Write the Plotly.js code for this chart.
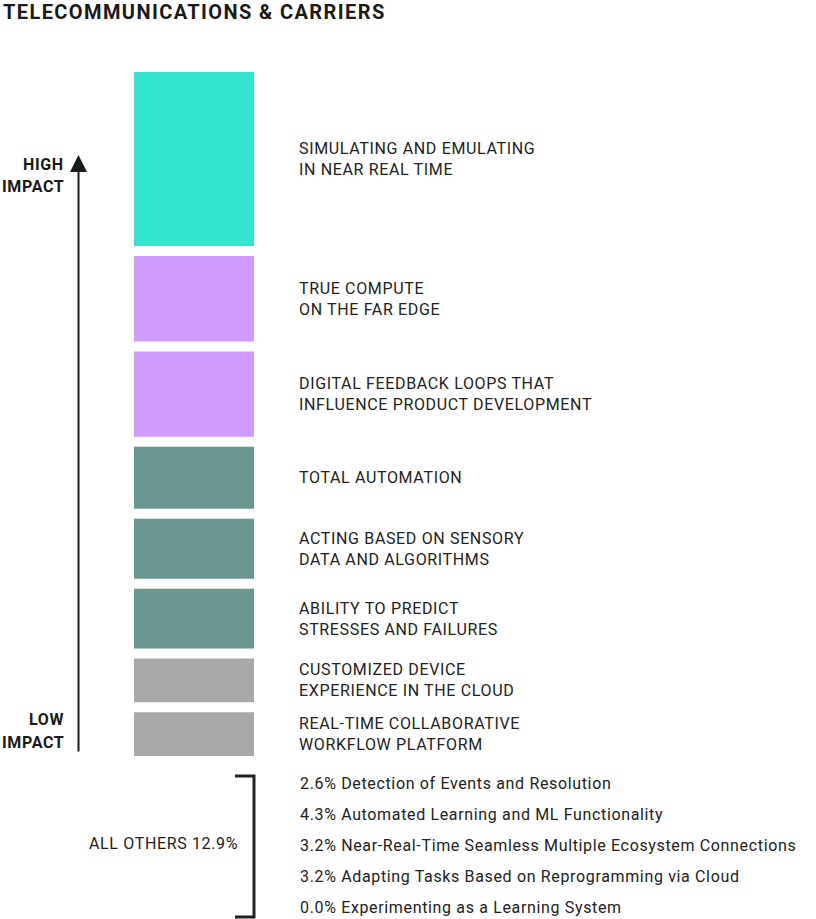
<!DOCTYPE html>
<html><head><meta charset="utf-8">
<script src="https://cdn.plot.ly/plotly-3.0.1.min.js"></script>
<style>
html,body{margin:0;padding:0;background:#fff}
#chart{width:816px;height:919px}
.annotation-text{letter-spacing:0.65px}
.gtitle{letter-spacing:1.4px}
</style></head><body><div id="chart"></div>
<script>
// ---- data (segments listed from top of the column to the bottom) ----
const impactLabels = [
  "SIMULATING AND EMULATING<br>IN NEAR REAL TIME",
  "TRUE COMPUTE<br>ON THE FAR EDGE",
  "DIGITAL FEEDBACK LOOPS THAT<br>INFLUENCE PRODUCT DEVELOPMENT",
  "TOTAL AUTOMATION",
  "ACTING BASED ON SENSORY<br>DATA AND ALGORITHMS",
  "ABILITY TO PREDICT<br>STRESSES AND FAILURES",
  "CUSTOMIZED DEVICE<br>EXPERIENCE IN THE CLOUD",
  "REAL-TIME COLLABORATIVE<br>WORKFLOW PLATFORM"
];
const impactValues = [24.7, 12.1, 12.1, 8.8, 8.5, 8.5, 6.2, 6.2];
const impactGroups = ["top", "high", "high", "mid", "mid", "mid", "low", "low"];

const otherLabels = [
  "Detection of Events and Resolution",
  "Automated Learning and ML Functionality",
  "Near-Real-Time Seamless Multiple Ecosystem Connections",
  "Adapting Tasks Based on Reprogramming via Cloud",
  "Experimenting as a Learning System"
];
const otherValues = [2.6, 4.3, 3.2, 3.2, 0.0];
const othersTotal = 12.9;

const chartTitle = "TELECOMMUNICATIONS &amp; CARRIERS";

// ---- styling ----
const groupColors = {top: "#33E4D1", high: "#CF9BFE", mid: "#6A9690", low: "#A8A8A8"};
const W = 816, H = 919;
const BAR_TOP = 72, BAR_BOTTOM = 756, GAP_PX = 10;
const BAR_CENTER = 194, BAR_WIDTH = 120;
const FONT = "Roboto, 'Noto Sans', sans-serif";
const TXT = "#222222";

// bottom-to-top ordering for stacking
const vals = impactValues.slice().reverse();
const labs = impactLabels.slice().reverse();
const cols = impactGroups.slice().reverse().map(g => groupColors[g]);
const sum = vals.reduce((a, b) => a + b, 0);
const n = vals.length;
const k = ((BAR_BOTTOM - BAR_TOP) - GAP_PX * (n - 1)) / sum; // px per unit
const gapU = GAP_PX / k;
const bases = [];
let acc = 0;
vals.forEach((v, i) => { bases.push(acc); acc += v + gapU; });
const totalU = acc - gapU;
const yRange = [-(H - BAR_BOTTOM) / k, totalU + BAR_TOP / k];

const py = p => (H - p) / H; // pixel -> paper y

const annotations = [];
labs.forEach((t, i) => {
  annotations.push({
    x: 297, xref: "x", y: bases[i] + vals[i] / 2, yref: "y",
    text: t, showarrow: false, xanchor: "left", yanchor: "middle", align: "left",
    font: {family: FONT, size: 16, color: TXT}
  });
});
const otherY = [783, 814, 845, 876, 907];
otherLabels.forEach((t, i) => {
  annotations.push({
    x: 298, xref: "x", y: py(otherY[i]), yref: "paper",
    text: otherValues[i].toFixed(1) + "% " + t, showarrow: false,
    xanchor: "left", yanchor: "middle", align: "left",
    font: {family: FONT, size: 16, color: TXT}
  });
});
annotations.push({
  x: 240, xref: "x", y: py(843), yref: "paper",
  text: "ALL OTHERS " + othersTotal.toFixed(1) + "%", showarrow: false,
  xanchor: "right", yanchor: "middle", font: {family: FONT, size: 16, color: TXT}
});
// axis labels left
[["HIGH", 164], ["IMPACT", 187], ["LOW", 719], ["IMPACT", 742]].forEach(([t, p]) => {
  annotations.push({
    x: 66, xref: "x", y: py(p), yref: "paper", text: "<b>" + t + "</b>",
    showarrow: false, xanchor: "right", yanchor: "middle", align: "right",
    font: {family: FONT, size: 16, color: "#1a1a1a", weight: 700}
  });
});
// impact arrow
annotations.push({
  x: 78.5, xref: "x", y: py(155), yref: "paper", ax: 0, ay: 598,
  text: "", showarrow: true, arrowhead: 2, arrowsize: 1.7, arrowwidth: 2,
  arrowcolor: "#1a1a1a", standoff: 0
});

const bx = p => p / W;
const bracket = {
  type: "path", xref: "paper", yref: "paper",
  path: `M ${bx(235)} ${py(776)} L ${bx(254)} ${py(776)} L ${bx(254)} ${py(917)} L ${bx(235)} ${py(917)}`,
  line: {color: "#222222", width: 3}
};

const trace = {
  type: "bar", x: vals.map(() => BAR_CENTER), y: vals, base: bases,
  width: BAR_WIDTH, marker: {color: cols, line: {width: 0}},
  hoverinfo: "skip", text: labs, textposition: "none"
};

const layout = {
  width: W, height: H, margin: {l: 0, r: 0, t: 0, b: 0},
  paper_bgcolor: "#fff", plot_bgcolor: "#fff", showlegend: false,
  barmode: "overlay",
  title: {text: "<b>" + chartTitle + "</b>", x: bx(3), xanchor: "left", xref: "paper",
          y: py(12), yanchor: "middle", yref: "container",
          font: {family: FONT, size: 20, color: "#1a1a1a", weight: 700}, pad: {t: 0, b: 0, l: 0, r: 0}},
  xaxis: {range: [0, W], visible: false, fixedrange: true},
  yaxis: {range: yRange, visible: false, fixedrange: true},
  annotations: annotations, shapes: [bracket]
};

Plotly.newPlot("chart", [trace], layout, {staticPlot: true, displayModeBar: false});
</script></body></html>
